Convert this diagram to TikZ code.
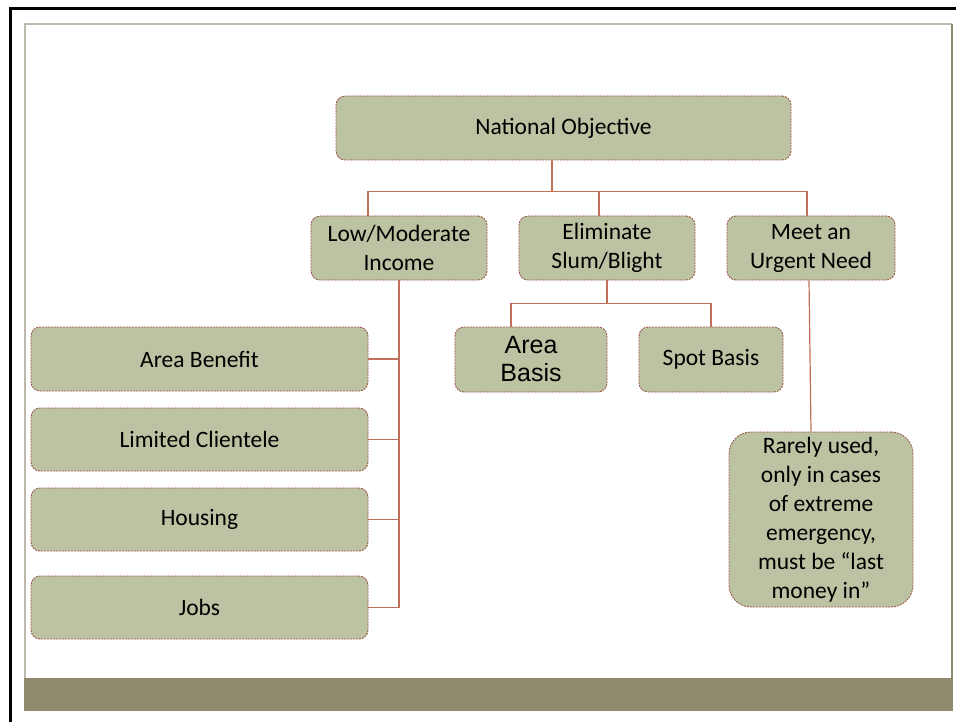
\documentclass[tikz,border=0pt]{standalone}
\usepackage{fontspec}
\setmainfont{Carlito}
\newfontfamily\arialfont{Liberation Sans}
\usetikzlibrary{positioning}

\definecolor{boxfill}{HTML}{BCC3A2}
\definecolor{boxline}{HTML}{9E5D4F}
\definecolor{linkred}{HTML}{C0705A}
\definecolor{bandcol}{HTML}{8F8A6E}
\definecolor{framegray}{HTML}{BDB9AD}

\begin{document}
\begin{tikzpicture}
[ x=1pt, y=-1pt,
		objbox/.style={rectangle,rounded corners=9pt,draw=boxline,fill=boxfill,dashed,dash pattern=on 2pt off 1pt,line width=0.9pt,inner sep=0pt,align=center,font=\fontsize{23.5}{29}\selectfont},
		notebox/.style={objbox,rounded corners=22pt},
		link/.style={draw=linkred,line width=1.2pt}]

	\useasboundingbox (0,0) rectangle (956,722);
	% slide frame
	\draw[line width=3pt] (10.5,722) -- (10.5,8.5) -- (956,8.5);
	\draw[framegray,line width=1.2pt] (25,678) -- (25,24) -- (952,24);
	\draw[bandcol,line width=1.2pt] (952,24) -- (952,678);
	\fill[bandcol] (24,678) rectangle (953,711);

	\node[objbox,minimum width=455pt,minimum height=64pt] (natobj) at (563.5,128) {National Objective};
	\node[objbox,minimum width=176pt,minimum height=64pt] (lowmod) at (399,248) {Low/Moderate\\Income};
	\node[objbox,minimum width=176pt,minimum height=64pt] (elim) at (607,248) {Eliminate\\Slum/Blight};
	\node[objbox,minimum width=168pt,minimum height=64pt] (urgent) at (811,248) {Meet an\\Urgent Need};

	\node[objbox,minimum width=152pt,minimum height=65pt,font=\arialfont\fontsize{25}{28}\selectfont] (areabasis) at (531,359.5) {Area\\Basis};
	\node[objbox,minimum width=144pt,minimum height=65pt] (spotbasis) at (711,359.5) {Spot Basis};
	\node[notebox,minimum width=184pt,minimum height=175pt] (rarely) at (821,519.5) {Rarely used,\\only in cases\\of extreme\\emergency,\\must be ``last\\money in''};

	\node[objbox,minimum width=337pt,minimum height=64pt] (areabenefit) at (199.5,359) {Area Bene\kern0pt{}fit};
	\node[objbox,minimum width=337pt,minimum height=63pt] (limited) at (199.5,439.5) {Limited Clientele};
	\node[objbox,minimum width=337pt,minimum height=63pt] (housing) at (199.5,519.5) {Housing};
	\node[objbox,minimum width=337pt,minimum height=63pt] (jobs) at (199.5,607.5) {Jobs};

	% tree lines
	\draw[link] ([xshift=-11.5pt]natobj.south) -- ++(0,31) coordinate (nobus);
	\draw[link] (nobus) -| ([xshift=-31pt]lowmod.north);
	\draw[link] (nobus) -| ([xshift=-8pt]elim.north);
	\draw[link] (nobus) -| ([xshift=-4pt]urgent.north);

	\draw[link] (elim.south) -- ++(0,23) coordinate (elbus);
	\draw[link] (elbus) -| ([xshift=-20pt]areabasis.north);
	\draw[link] (elbus) -| (spotbasis.north);

	\draw[link] ([xshift=-2pt]urgent.south) -- ([xshift=-10pt]rarely.north);

	\draw[link] (lowmod.south) |- (jobs.east);
	\draw[link] (areabenefit.east) -- (areabenefit.east -| lowmod.south);
	\draw[link] (limited.east) -- (limited.east -| lowmod.south);
	\draw[link] (housing.east) -- (housing.east -| lowmod.south);
\end{tikzpicture}
\end{document}
